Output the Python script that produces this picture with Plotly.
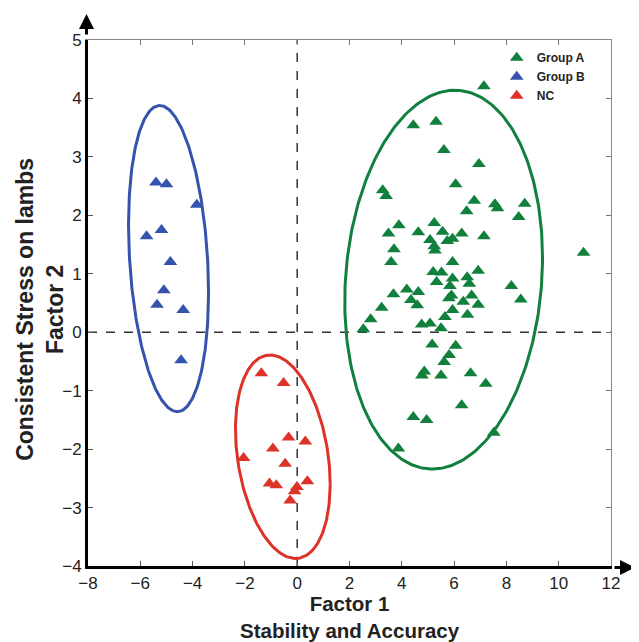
import numpy as np
import plotly.graph_objects as go

# ---------------- data ----------------
x_range = [-8, 12]
y_range = [-4, 5]
x_ticks = [-8, -6, -4, -2, 0, 2, 4, 6, 8, 10, 12]
y_ticks = [-4, -3, -2, -1, 0, 1, 2, 3, 4, 5]

group_a_x = [7.14, 4.44, 5.31, 5.61, 6.95, 6.06, 3.27, 3.40, 6.77, 6.48, 7.56, 7.66, 8.70, 8.47,
             3.89, 3.49, 4.63, 5.24, 5.56, 6.29, 7.14, 5.94, 5.74, 5.08, 5.24, 5.27, 3.70, 3.59,
             5.94, 5.20, 5.52, 6.92, 5.33, 5.94, 6.50, 6.58, 5.84, 8.19, 8.55, 3.68, 4.19, 4.63,
             4.35, 4.59, 5.90, 5.80, 6.67, 6.35, 6.92, 3.23, 5.94, 6.51, 5.65, 2.81, 2.53, 4.76,
             5.08, 5.50, 5.16, 6.06, 5.81, 5.62, 4.86, 4.77, 5.50, 6.63, 7.21, 6.29, 4.44, 4.95,
             7.52, 3.87, 10.95]
group_a_y = [4.21, 3.54, 3.60, 3.12, 2.88, 2.53, 2.43, 2.33, 2.25, 2.07, 2.19, 2.12, 2.20, 1.97,
             1.83, 1.69, 1.71, 1.87, 1.72, 1.69, 1.64, 1.60, 1.56, 1.58, 1.47, 1.40, 1.42, 1.20,
             1.20, 1.03, 1.02, 1.05, 0.86, 0.92, 0.94, 0.83, 0.79, 0.79, 0.56, 0.65, 0.73, 0.69,
             0.55, 0.46, 0.63, 0.58, 0.63, 0.52, 0.47, 0.42, 0.38, 0.30, 0.26, 0.22, 0.05, 0.13,
             0.15, 0.07, -0.21, -0.23, -0.39, -0.51, -0.67, -0.74, -0.74, -0.70, -0.88, -1.25,
             -1.45, -1.50, -1.72, -1.99, 1.36]

group_b_x = [-5.40, -5.00, -3.84, -5.76, -5.19, -4.85, -5.10, -5.36, -4.36, -4.44]
group_b_y = [2.56, 2.53, 2.18, 1.64, 1.75, 1.20, 0.72, 0.47, 0.38, -0.48]

nc_x = [-1.37, -0.52, -0.33, 0.31, -0.93, -2.05, -0.46, -1.06, -0.80, -0.01, 0.39, -0.10, -0.27]
nc_y = [-0.70, -0.87, -1.80, -1.87, -1.99, -2.15, -2.25, -2.59, -2.62, -2.65, -2.55, -2.72, -2.88]

series_names = ["Group A", "Group B", "NC"]
series_colors = ["#11803c", "#3553ad", "#dc3228"]

# confidence ellipses: centre and covariance-like shape terms
ellipse_cx = [5.60, -4.92, -0.55]
ellipse_cy = [0.90, 1.26, -2.13]
ellipse_sxx = [14.3, 2.34, 3.28]
ellipse_syy = [10.5, 6.86, 3.03]
ellipse_sxy = [1.4, -0.88, -0.85]

x_title = "Factor 1<br>Stability and Accuracy"
y_title = "Consistent Stress on lambs<br>Factor 2"

# ---------------- figure ----------------
fig = go.Figure()

t = np.linspace(0, 2 * np.pi, 300)
for i in range(3):
    m = np.array([[ellipse_sxx[i], ellipse_sxy[i]], [ellipse_sxy[i], ellipse_syy[i]]])
    L = np.linalg.cholesky(m)
    pts = L @ np.vstack([np.cos(t), np.sin(t)])
    fig.add_trace(go.Scatter(
        x=ellipse_cx[i] + pts[0], y=ellipse_cy[i] + pts[1],
        mode="lines", line=dict(color=series_colors[i], width=3),
        showlegend=False, hoverinfo="skip"))

for name, xs, ys, col in zip(series_names,
                             [group_a_x, group_b_x, nc_x],
                             [group_a_y, group_b_y, nc_y],
                             series_colors):
    fig.add_trace(go.Scatter(
        x=xs, y=ys, mode="markers", name=name,
        marker=dict(symbol="triangle-up", size=12, color=col, line=dict(width=0))))

# dummy trace to host the mirrored (top/right) axes
fig.add_trace(go.Scatter(x=[None], y=[None], xaxis="x2", yaxis="y2",
                         showlegend=False, hoverinfo="skip"))

font_family = "Liberation Sans, Arial, Helvetica, sans-serif"
title_font = dict(family=font_family, size=20.5, color="#222222", weight="bold")
ytitle_font = dict(family=font_family, size=23, color="#222222", weight="bold")
tick_font = dict(family=font_family, size=17, color="#222222")

# the page body adds an 8px offset, so the figure is sized to fit the window
fig.update_layout(
    width=631, height=634,
    margin=dict(l=80, r=28, t=32, b=76),
    paper_bgcolor="white", plot_bgcolor="white",
    showlegend=True,
    legend=dict(x=0.7815, y=0.994, xanchor="left", yanchor="top",
                bgcolor="rgba(0,0,0,0)", borderwidth=0,
                font=dict(family=font_family, size=12, color="#222222", weight="bold"),
                itemwidth=30, tracegroupgap=0),
    xaxis=dict(range=x_range, tickvals=x_ticks,
               ticktext=[str(v).replace("-", "\u2212") for v in x_ticks],
               ticks="inside", ticklen=5, tickwidth=1, tickcolor="#555555",
               showline=True, linewidth=3, linecolor="black", automargin=False,
               showgrid=False, zeroline=False, tickfont=tick_font),
    yaxis=dict(range=y_range, tickvals=y_ticks,
               ticktext=[str(v).replace("-", "\u2212") for v in y_ticks],
               ticks="inside", ticklen=5, tickwidth=1, tickcolor="#555555",
               showline=True, linewidth=3, linecolor="black", automargin=False,
               showgrid=False, zeroline=False, tickfont=tick_font),
    xaxis2=dict(range=x_range, tickvals=x_ticks, overlaying="x", side="top", anchor="y2",
                ticks="inside", ticklen=5, tickcolor="#777777", automargin=False,
                showline=True, linewidth=1, linecolor="#888888",
                showticklabels=False, showgrid=False, zeroline=False),
    yaxis2=dict(range=y_range, tickvals=y_ticks, overlaying="y", side="right", anchor="x2",
                ticks="inside", ticklen=5, tickcolor="#777777", automargin=False,
                showline=True, linewidth=1, linecolor="#888888",
                showticklabels=False, showgrid=False, zeroline=False),
)

# axis titles (two lines each)
fig.add_annotation(x=0.5, y=-(617 - 566) / 526, xref="paper", yref="paper",
                   text=x_title, showarrow=False,
                   xanchor="center", yanchor="middle", font=title_font)
fig.add_annotation(x=(40 - 88) / 523, y=0.487, xref="paper", yref="paper",
                   text=y_title, textangle=-90, showarrow=False,
                   xanchor="center", yanchor="middle", font=ytitle_font)

# dashed reference lines at 0
fig.add_shape(type="line", xref="x", yref="y", x0=0, x1=0, y0=y_range[0], y1=y_range[1],
              line=dict(color="#333333", width=1.5, dash="dash"), layer="below")
fig.add_shape(type="line", xref="x", yref="y", x0=x_range[0], x1=x_range[1], y0=0, y1=0,
              line=dict(color="#333333", width=1.5, dash="dash"), layer="below")

# axis arrowheads
fig.add_annotation(x=-1.5 / 523, y=1 + 26 / 526, xref="paper", yref="paper",
                   ax=0, ay=22, axref="pixel", ayref="pixel", text="", showarrow=True,
                   arrowhead=2, arrowsize=1, arrowwidth=3, arrowcolor="black")
fig.add_annotation(x=1 + 24 / 523, y=-1.5 / 526, xref="paper", yref="paper",
                   ax=-22, ay=0, axref="pixel", ayref="pixel", text="", showarrow=True,
                   arrowhead=2, arrowsize=1, arrowwidth=3, arrowcolor="black")

fig.write_html("out.html")
